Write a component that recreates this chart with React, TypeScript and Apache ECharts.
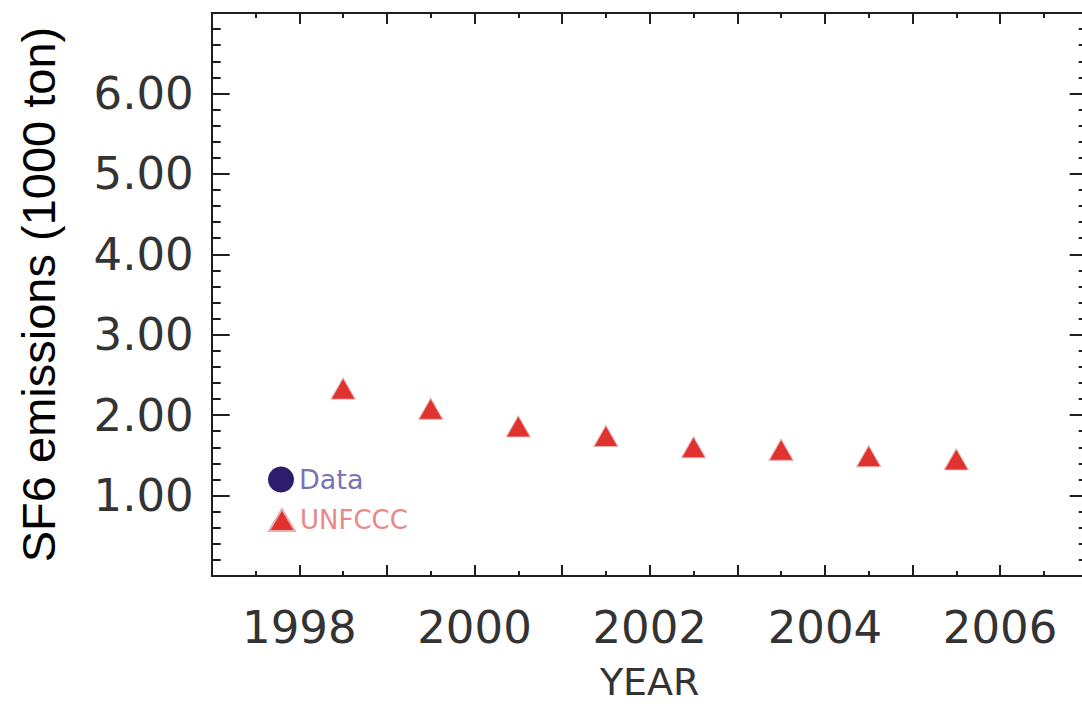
import React, { useEffect, useRef } from "react";
import * as echarts from "echarts";

const years: number[] = [1998.5, 1999.5, 2000.5, 2001.5, 2002.5, 2003.5, 2004.5, 2005.5];
const unfccc: number[] = [2.33, 2.08, 1.86, 1.74, 1.6, 1.57, 1.49, 1.45];
const dataSeries: number[][] = [];
const xLabelYears: number[] = [1998, 2000, 2002, 2004, 2006];
const yLabelValues: number[] = [1, 2, 3, 4, 5, 6];

const AXIS_COLOR = "#1e1e1e";
const LABEL_COLOR = "#333333";
const TICK_FONT = "DejaVu Sans";

export default function App() {
  const ref = useRef<HTMLDivElement>(null);

  useEffect(() => {
    if (!ref.current) return;
    const chart = echarts.init(ref.current, null, { renderer: "svg" });

    const xCommon = {
      type: "value" as const,
      min: 1997,
      max: 2007,
      interval: 1,
      splitLine: { show: false },
      axisLine: { show: true, onZero: false, lineStyle: { color: AXIS_COLOR, width: 2 } },
      axisTick: { show: true, inside: true, length: 11, lineStyle: { color: AXIS_COLOR, width: 2 } },
      minorTick: { show: true, splitNumber: 2, length: 5, lineStyle: { color: AXIS_COLOR, width: 2 } },
    };
    const yCommon = {
      type: "value" as const,
      min: 0,
      max: 7,
      interval: 1,
      splitLine: { show: false },
      axisLine: { show: true, onZero: false, lineStyle: { color: AXIS_COLOR, width: 2 } },
      axisTick: { show: true, inside: true, length: 18, lineStyle: { color: AXIS_COLOR, width: 2 } },
      minorTick: { show: true, splitNumber: 5, length: 9, lineStyle: { color: AXIS_COLOR, width: 2 } },
    };

    chart.setOption({
      animation: false,
      backgroundColor: "#ffffff",
      grid: {
        left: 211.7,
        top: 13,
        width: 876,
        height: 563,
        containLabel: false,
        outerBoundsMode: "none",
      },
      legend: [
        {
          left: 268,
          top: 466,
          padding: 0,
          orient: "vertical",
          selectedMode: false,
          itemWidth: 26,
          itemHeight: 26,
          data: [
            {
              name: "Data",
              icon: "circle",
              textStyle: { color: "#7b72b3", fontSize: 27, fontFamily: TICK_FONT },
            },
          ],
        },
        {
          left: 268,
          top: 507,
          padding: 0,
          orient: "vertical",
          selectedMode: false,
          itemWidth: 26,
          itemHeight: 22,
          data: [
            {
              name: "UNFCCC",
              icon: "triangle",
              textStyle: { color: "#e98888", fontSize: 26, fontFamily: TICK_FONT },
            },
          ],
        },
      ],
      xAxis: [
        {
          ...xCommon,
          position: "bottom",
          name: "YEAR",
          nameLocation: "middle",
          nameGap: 88,
          nameTextStyle: { color: LABEL_COLOR, fontSize: 38, lineHeight: 36, fontFamily: TICK_FONT },
          axisLabel: {
            show: true,
            margin: 29,
            color: LABEL_COLOR,
            fontSize: 45,
            fontFamily: TICK_FONT,
            formatter: (v: number) => (xLabelYears.includes(v) ? String(v) : ""),
          },
        },
        {
          ...xCommon,
          position: "top",
          axisLabel: { show: false },
        },
      ],
      yAxis: [
        {
          ...yCommon,
          position: "left",
          name: "SF6 emissions (1000 ton)",
          nameLocation: "middle",
          nameGap: 150,
          nameTextStyle: { color: "#000000", fontSize: 47, fontFamily: "Liberation Sans" },
          axisLabel: {
            show: true,
            margin: 18,
            color: LABEL_COLOR,
            fontSize: 45,
            fontFamily: TICK_FONT,
            formatter: (v: number) => (yLabelValues.includes(v) ? v.toFixed(2) : ""),
          },
        },
        {
          ...yCommon,
          position: "right",
          axisLabel: { show: false },
        },
      ],
      series: [
        {
          name: "Data",
          type: "scatter",
          data: dataSeries,
          symbol: "circle",
          symbolSize: 26,
          itemStyle: { color: "#2e1c6e", opacity: 1 },
        },
        {
          name: "UNFCCC",
          type: "scatter",
          data: years.map((y, i) => [y, unfccc[i]]),
          symbol: "triangle",
          symbolSize: [24, 21],
          itemStyle: { color: "#e0322f", borderColor: "#e6b0b0", borderWidth: 1, opacity: 1 },
        },
      ],
    });

    return () => chart.dispose();
  }, []);

  return (
    <div
      ref={ref}
      style={{ position: "absolute", left: 0, top: 0, width: 1082, height: 706, overflow: "hidden" }}
    />
  );
}
